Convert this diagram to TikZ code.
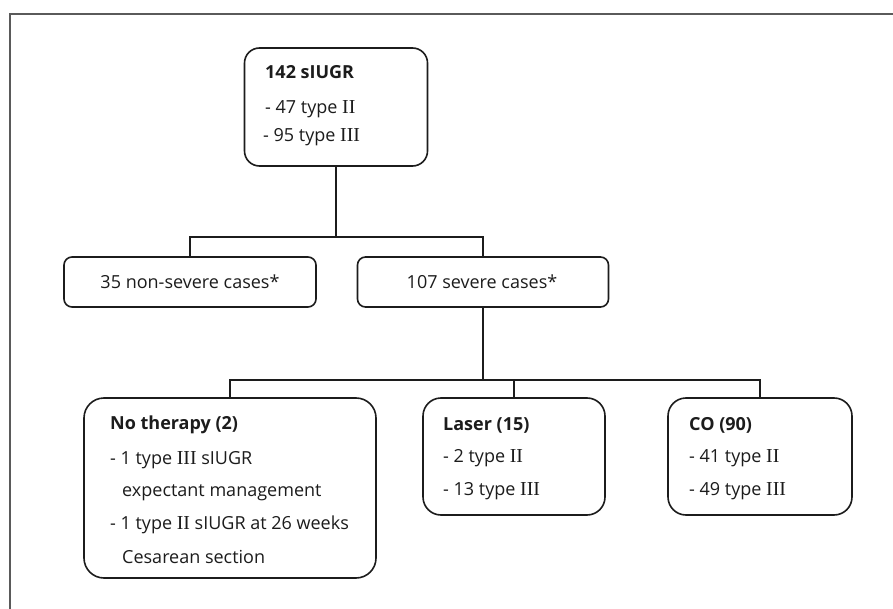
\documentclass[tikz,border=0pt]{standalone}
\usepackage{fontspec}
\setmainfont{Open Sans}
\newfontfamily\rmnfont[Scale=1.1]{Liberation Serif}
\newcommand{\rn}[1]{{\rmnfont #1}}
\definecolor{framegray}{HTML}{5A5A5A}
\definecolor{ink}{HTML}{1C1C1C}
\begin{document}
\begin{tikzpicture}[x=1pt,y=-1pt,
  box/.style={draw=ink,line width=1.6pt,rectangle,inner sep=0pt},
  txt/.style={anchor=base west,inner sep=0pt,text=ink,font=\fontsize{18}{22}\selectfont},
  ctxt/.style={anchor=base,inner sep=0pt,text=ink,font=\fontsize{18}{22}\selectfont},
  link/.style={draw=ink,line width=1.6pt}]
\useasboundingbox (0,0) rectangle (893,609);
\fill[white] (0,0) rectangle (893,609);
\draw[framegray,line width=1.6pt] (10,609) -- (10,14) -- (893,14);

\node[box,rounded corners=15pt,minimum width=183pt,minimum height=118pt] (top) at (336,107) {};
\node[box,rounded corners=8pt,minimum width=252pt,minimum height=50pt] (ns) at (190,282) {};
\node[box,rounded corners=8pt,minimum width=251pt,minimum height=50pt] (sv) at (483,282) {};
\node[box,rounded corners=20pt,minimum width=292pt,minimum height=180pt] (nt) at (230,488) {};
\node[box,rounded corners=18pt,minimum width=182pt,minimum height=117pt] (la) at (514,456.5) {};
\node[box,rounded corners=18pt,minimum width=184pt,minimum height=117pt] (co) at (760,456.5) {};

% texts
\node[txt] (t1) at (265,79) {\textbf{142 sIUGR}};
\node[txt] (t2) at (265,114) {- 47 type \rn{II}};
\node[txt] (t3) at (263,142) {- 95 type \rn{III}};

\node[ctxt] (t4) at (190,289) {35 non-severe cases*};
\node[ctxt] (t5) at (482,289) {107 severe cases*};

\node[txt] (t6) at (110,429) {\textbf{No therapy (2)}};
\node[txt] (t7) at (110,464) {- 1 type \rn{III} sIUGR};
\node[txt] (t8) at (122,496) {expectant management};
\node[txt] (t9) at (110,529) {- 1 type \rn{II} sIUGR at 26 weeks};
\node[txt] (t10) at (122,563) {Cesarean section};

\node[txt] (t11) at (443,430) {\textbf{Laser (15)}};
\node[txt] (t12) at (443,462) {- 2 type \rn{II}};
\node[txt] (t13) at (443,495) {- 13 type \rn{III}};

\node[txt] (t14) at (689,430) {\textbf{CO (90)}};
\node[txt] (t15) at (689,462) {- 41 type \rn{II}};
\node[txt] (t16) at (689,495) {- 49 type \rn{III}};

% connectors
\coordinate (j1) at (top.south |- 0,237);
\coordinate (j2) at (sv.south |- 0,380);
\draw[link] (top.south) -- (j1);
\draw[link] (ns.north) |- (j1) -| (sv.north);
\draw[link] (sv.south) -- (j2);
\draw[link] (nt.north) |- (j2) -| (co.north);
\draw[link] (la.north) -- (la.north |- j2);
\end{tikzpicture}
\end{document}
